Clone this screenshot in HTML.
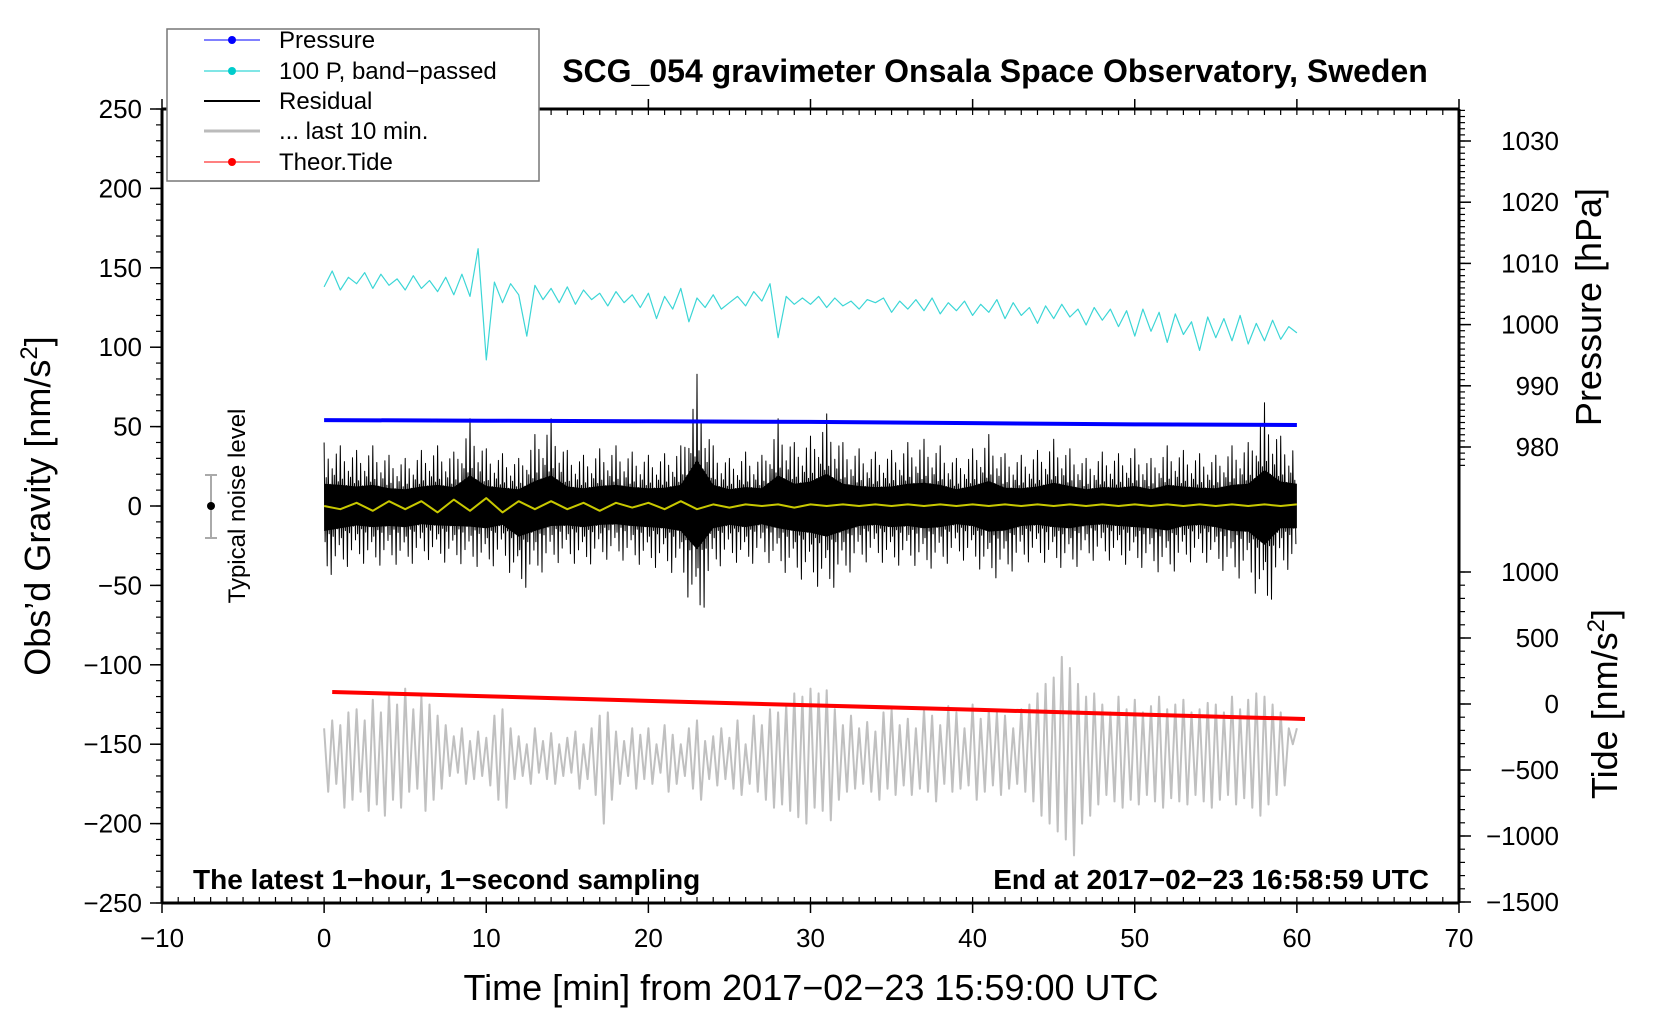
<!DOCTYPE html>
<html><head><meta charset="utf-8"><style>
body{margin:0;background:#fff;overflow:hidden}
svg{display:block;font-family:"Liberation Sans",sans-serif}
</style></head><body>
<svg id="chart" width="1660" height="1020" viewBox="0 0 1660 1020" xmlns="http://www.w3.org/2000/svg">
<rect width="1660" height="1020" fill="#fff"/>
<g id="marks"></g>
<g id="axes"></g>
<text x="995" y="82" text-anchor="middle" font-size="32" font-weight="bold">SCG_054 gravimeter Onsala Space Observatory, Sweden</text>
<text x="811" y="1000" text-anchor="middle" font-size="36">Time [min] from 2017−02−23 15:59:00 UTC</text>
<text transform="translate(50,506) rotate(-90)" text-anchor="middle" font-size="36">Obs’d Gravity [nm/s<tspan font-size="24" dy="-13">2</tspan><tspan dy="13">]</tspan></text>
<text transform="translate(1601,307) rotate(-90)" text-anchor="middle" font-size="36">Pressure [hPa]</text>
<text transform="translate(1617,704) rotate(-90)" text-anchor="middle" font-size="36">Tide [nm/s<tspan font-size="24" dy="-13">2</tspan><tspan dy="13">]</tspan></text>
<text x="193" y="889" font-size="28" font-weight="bold">The latest 1−hour, 1−second sampling</text>
<text x="1429" y="889" text-anchor="end" font-size="28" font-weight="bold">End at 2017−02−23 16:58:59 UTC</text>
<g>
<line x1="211" y1="475" x2="211" y2="538" stroke="#aaa" stroke-width="2"/>
<line x1="205" y1="475" x2="217" y2="475" stroke="#aaa" stroke-width="2"/>
<line x1="205" y1="538" x2="217" y2="538" stroke="#aaa" stroke-width="2"/>
<circle cx="211" cy="506" r="4" fill="#000"/>
<text transform="translate(245,506) rotate(-90)" text-anchor="middle" font-size="24">Typical noise level</text>
</g>
<g>
<rect x="167" y="29" width="372" height="152" fill="#fff" stroke="#777" stroke-width="1.5"/>
<g><line x1="204" y1="40" x2="260" y2="40" stroke="#00f" stroke-width="1"/><circle cx="232" cy="40" r="4" fill="#00f"/><text x="279" y="48" font-size="24">Pressure</text></g>
<g><line x1="204" y1="71" x2="260" y2="71" stroke="#0cc" stroke-width="1"/><circle cx="232" cy="71" r="4" fill="#0cc"/><text x="279" y="79" font-size="24">100 P, band−passed</text></g>
<g><line x1="204" y1="101" x2="260" y2="101" stroke="#000" stroke-width="2"/><text x="279" y="109" font-size="24">Residual</text></g>
<g><line x1="204" y1="131" x2="260" y2="131" stroke="#bbb" stroke-width="3"/><text x="279" y="139" font-size="24">... last 10 min.</text></g>
<g><line x1="204" y1="162" x2="260" y2="162" stroke="#f00" stroke-width="1"/><circle cx="232" cy="162" r="4" fill="#f00"/><text x="279" y="170" font-size="24">Theor.Tide</text></g>
</g>
</svg>
<script>
const residHi=[40,38,35,38,32,30,35,38,34,55,36,33,30,45,55,35,32,36,38,34,32,33,38,83,38,30,34,32,55,40,44,58,40,36,34,35,40,42,38,30,36,45,33,32,35,42,36,30,34,33,36,30,38,35,33,32,38,40,65,44,40];
const residLo=[-45,-40,-35,-38,-36,-38,-33,-35,-36,-37,-40,-34,-55,-45,-36,-35,-38,-34,-33,-36,-38,-40,-45,-78,-40,-34,-38,-33,-40,-45,-48,-55,-45,-36,-34,-38,-36,-40,-38,-33,-36,-46,-44,-36,-34,-38,-40,-35,-33,-36,-38,-40,-44,-36,-34,-38,-45,-46,-70,-40,-40];
const yellow=[0,-2,2,-3,3,-2,3,-4,4,-3,5,-4,3,-2,3,-2,2,-3,2,-1,2,-2,3,-2,1,-1,1,0,1,-1,1,0,1,0,1,0,1,0,1,0,1,0,1,0,1,0,1,0,1,0,1,0,1,0,1,0,1,0,1,0,1];
const cyan=[138,148,136,144,140,147,137,146,139,143,136,145,137,142,135,144,133,146,132,162,
92,141,128,140,133,107,139,130,137,128,138,127,136,130,134,126,135,128,133,125,
134,118,132,124,137,116,131,125,133,124,128,132,126,135,129,140,106,132,127,131,
127,132,125,131,126,129,124,130,128,131,122,129,124,130,123,131,121,128,123,129,
120,127,122,130,118,128,120,125,115,126,118,127,119,124,114,125,117,124,113,123,
107,124,110,122,103,121,108,116,98,119,106,118,104,120,102,115,104,117,105,113,109];
const grayHi=[-140,-135,-138,-130,-128,-135,-122,-130,-118,-125,-115,-128,
-120,-125,-132,-138,-145,-140,-148,-142,-146,-132,-128,-140,
-145,-150,-140,-148,-143,-150,-146,-142,-150,-140,-132,-130,
-142,-148,-140,-144,-140,-150,-138,-144,-150,-140,-135,-148,
-145,-140,-146,-135,-150,-132,-138,-128,-130,-125,-118,-120,
-115,-118,-116,-128,-138,-132,-140,-136,-142,-130,-128,-138,
-134,-140,-128,-132,-138,-126,-130,-140,-125,-134,-128,-130,
-132,-140,-128,-125,-118,-112,-108,-95,-102,-112,-120,-118,
-125,-130,-120,-128,-122,-130,-126,-120,-128,-125,-122,-130,
-128,-124,-125,-130,-120,-128,-122,-118,-120,-125,-130,-140];
const grayLo=[-180,-175,-190,-185,-180,-192,-188,-195,-185,-190,-180,-178,
-192,-185,-178,-170,-168,-175,-172,-170,-176,-185,-190,-172,
-170,-175,-168,-172,-175,-170,-168,-178,-172,-182,-200,-185,
-175,-170,-178,-172,-175,-168,-180,-175,-170,-178,-185,-172,
-176,-172,-178,-182,-175,-180,-185,-190,-188,-192,-196,-200,
-190,-192,-198,-185,-180,-178,-175,-180,-185,-178,-182,-176,
-182,-178,-180,-186,-175,-180,-178,-176,-185,-180,-176,-182,
-178,-175,-180,-186,-195,-200,-205,-210,-220,-200,-195,-188,
-182,-186,-190,-185,-188,-182,-186,-190,-184,-186,-188,-182,
-186,-190,-185,-182,-188,-184,-190,-195,-188,-182,-176,-150];
const pressureT=[0,10,20,30,40,50,60];
const pressure=[984.4,984.3,984.2,984.1,983.9,983.7,983.6];
const tideT=[0.5,10.5,20.5,30.5,40.5,50.5,60.5];
const tide=[91,57,22,-11,-45,-80,-114];
const xTicks=[-10,0,10,20,30,40,50,60,70];
const yTicks=[250,200,150,100,50,0,-50,-100,-150,-200,-250];
const pTicks=[980,990,1000,1010,1020,1030];
const tTicks=[1000,500,0,-500,-1000,-1500];

const L=162,R=1459,T=109,B=903;
const X=t=>L+(t+10)*(R-L)/80;
const Y=v=>T+(250-v)*(B-T)/500;
const YP=p=>141+(1030-p)*(447-141)/50;
const YT=v=>704-v*(903-573)/2500;
const NS="http://www.w3.org/2000/svg";
const marks=document.getElementById('marks'),axes=document.getElementById('axes');
function mk(tag,attrs,parent){const e=document.createElementNS(NS,tag);for(const k in attrs)e.setAttribute(k,attrs[k]);parent.appendChild(e);return e;}
function pl(pts,stroke,w,name){const e=mk('polyline',{points:pts.map(p=>p[0].toFixed(1)+','+p[1].toFixed(1)).join(' '),fill:'none',stroke:stroke,'stroke-width':w,'stroke-linejoin':'round'},marks);

return e;}

let g=[];for(let i=0;i<grayHi.length;i++){g.push([X(i*0.5),Y(grayHi[i])]);g.push([X(i*0.5+0.25),Y(grayLo[i])]);}
g.push([X(60),Y(-140)]);
pl(g,'#c0c0c0',2,'last-10-min-line');
pl(tideT.map((t,i)=>[X(t),YT(tide[i])]),'#f00',4,'theor-tide-line');
pl(cyan.map((v,i)=>[X(i*0.5),Y(v)]),'#3cd6d6',1.2,'band-passed-pressure-line');
let core=[],cl=[];
for(let i=0;i<residHi.length;i++){core.push([X(i),Y(residHi[i]*0.35)]);cl.unshift([X(i),Y(residLo[i]*0.35)]);}
const cp=mk('polygon',{points:core.concat(cl).map(p=>p[0].toFixed(1)+','+p[1].toFixed(1)).join(' '),fill:'#000'},marks);


const f=[1,0.45,0.75,0.35,0.6,0.5,0.85,0.4];
let r=[];
for(let i=0;i<residHi.length-1;i++){for(let k=0;k<8;k++){const a=k/8;const hi=residHi[i]*(1-a)+residHi[i+1]*a;const lo=residLo[i]*(1-a)+residLo[i+1]*a;
r.push([X(i+a),Y(hi*f[k])]);r.push([X(i+a+1/16),Y(lo*f[(k+5)%8])]);}}
pl(r,'#000',1,'residual-line');
pl(yellow.map((v,i)=>[X(i),Y(v)]),'#c8c800',2,'residual-smoothed-line');
pl(pressureT.map((t,i)=>[X(t),YP(pressure[i])]),'#00f',4,'pressure-line');

function ln(x1,y1,x2,y2,w){mk('line',{x1,y1,x2,y2,stroke:'#000','stroke-width':w},axes);}
ln(L,T,L,B,3);ln(L,B,R,B,3);ln(R,T,R,B,3);ln(L,T,R,T,3);
for(let t=-10;t<=70;t++){ln(X(t),B,X(t),B-6,1.2);ln(X(t),T,X(t),T+6,1.2);}
xTicks.forEach(t=>{ln(X(t),B,X(t),B+10,1.5);ln(X(t),T,X(t),T-10,1.5);
const e=mk('text',{x:X(t),y:B+44,'text-anchor':'middle','font-size':26},axes);e.textContent=String(t).replace('-','−');

});
for(let v=-250;v<=250;v+=10)ln(L,Y(v),L-6,Y(v),1.2);
yTicks.forEach(v=>{ln(L,Y(v),L-12,Y(v),1.5);
const e=mk('text',{x:L-20,y:Y(v)+9,'text-anchor':'end','font-size':26},axes);e.textContent=String(v).replace('-','−');

});
for(let p=975;p<=1035;p++){const y=YP(p);if(y>T&&y<470)ln(R,y,R+6,y,1.2);}
pTicks.forEach(p=>{ln(R,YP(p),R+12,YP(p),1.5);
const e=mk('text',{x:R+100,y:YP(p)+9,'text-anchor':'end','font-size':26},axes);e.textContent=p;

});
for(let v=-1500;v<=1000;v+=100)ln(R,YT(v),R+6,YT(v),1.2);
tTicks.forEach(v=>{ln(R,YT(v),R+12,YT(v),1.5);
const e=mk('text',{x:R+100,y:YT(v)+9,'text-anchor':'end','font-size':26},axes);e.textContent=String(v).replace('-','−');

});
</script>
</body></html>
